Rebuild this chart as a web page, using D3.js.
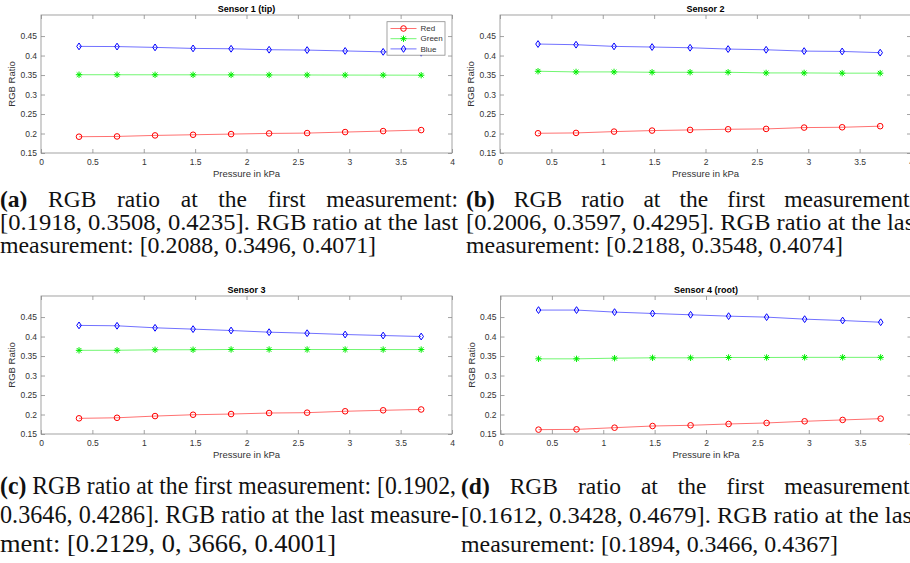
<!DOCTYPE html>
<html>
<head>
<meta charset="utf-8">
<script src="https://cdn.jsdelivr.net/npm/d3@7"></script>
<style>
  body { margin: 0; background: #fff; }
  svg { display: block; overflow: hidden; }
</style>
</head>
<body>
<svg id="chart" width="910" height="563"></svg>
<script>
// Pressure steps (kPa), shared by all four sensors
const pressure = [0.37, 0.74, 1.11, 1.48, 1.85, 2.22, 2.59, 2.96, 3.33, 3.70];

const seriesNames = ["Red", "Green", "Blue"];
const sensorTitles = ["Sensor 1 (tip)", "Sensor 2", "Sensor 3", "Sensor 4 (root)"];

// RGB ratios
const s1Red   = [0.1918, 0.1925, 0.1951, 0.1968, 0.1985, 0.2002, 0.2011, 0.2037, 0.2062, 0.2088];
const s1Green = [0.3508, 0.3507, 0.3506, 0.3505, 0.3504, 0.3502, 0.3501, 0.3499, 0.3498, 0.3496];
const s1Blue  = [0.4235, 0.4230, 0.4209, 0.4183, 0.4174, 0.4149, 0.4140, 0.4118, 0.4095, 0.4071];

const s2Red   = [0.2006, 0.2015, 0.2049, 0.2075, 0.2092, 0.2109, 0.2118, 0.2152, 0.2160, 0.2188];
const s2Green = [0.3597, 0.3580, 0.3580, 0.3571, 0.3571, 0.3571, 0.3554, 0.3554, 0.3548, 0.3548];
const s2Blue  = [0.4295, 0.4278, 0.4235, 0.4218, 0.4200, 0.4166, 0.4148, 0.4114, 0.4105, 0.4074];

const s3Red   = [0.1902, 0.1916, 0.1960, 0.1994, 0.2012, 0.2038, 0.2047, 0.2083, 0.2108, 0.2129];
const s3Green = [0.3646, 0.3648, 0.3660, 0.3662, 0.3668, 0.3668, 0.3667, 0.3667, 0.3666, 0.3666];
const s3Blue  = [0.4286, 0.4276, 0.4224, 0.4190, 0.4155, 0.4112, 0.4086, 0.4052, 0.4026, 0.4001];

const s4Red   = [0.1612, 0.1619, 0.1662, 0.1705, 0.1723, 0.1757, 0.1783, 0.1826, 0.1861, 0.1894];
const s4Green = [0.3428, 0.3428, 0.3445, 0.3454, 0.3454, 0.3463, 0.3463, 0.3466, 0.3466, 0.3466];
const s4Blue  = [0.4679, 0.4679, 0.4627, 0.4592, 0.4558, 0.4523, 0.4498, 0.4446, 0.4411, 0.4367];

const xTicks = [0, 0.5, 1, 1.5, 2, 2.5, 3, 3.5, 4];
const yTicks = [0.15, 0.2, 0.25, 0.3, 0.35, 0.4, 0.45];

const captionA = ["(a) RGB ratio at the first measurement:",
                  "[0.1918, 0.3508, 0.4235]. RGB ratio at the last",
                  "measurement: [0.2088, 0.3496, 0.4071]"];
const captionB = ["(b) RGB ratio at the first measurement:",
                  "[0.2006, 0.3597, 0.4295]. RGB ratio at the last",
                  "measurement: [0.2188, 0.3548, 0.4074]"];
const captionC = ["(c) RGB ratio at the first measurement: [0.1902,",
                  "0.3646, 0.4286]. RGB ratio at the last measure-",
                  "ment: [0.2129, 0, 3666, 0.4001]"];
const captionD = ["(d) RGB ratio at the first measurement:",
                  "[0.1612, 0.3428, 0.4679]. RGB ratio at the last",
                  "measurement: [0.1894, 0.3466, 0.4367]"];

// ---- layout / style ----
const svg = d3.select("#chart");
const pw = 411, ph = 138;
const axisColor = "#8c8c8c";
const labelColor = "#333";
const sansFont = "'Liberation Sans', Arial, Helvetica, sans-serif";
const serifFont = "'Liberation Serif', 'Times New Roman', Times, serif";
const colors = { Red: "#ff0000", Green: "#00ee00", Blue: "#0000ff" };

const panels = [
    { title: sensorTitles[0], values: [s1Red, s1Green, s1Blue], left: 41,  top: 15,  legend: true },
    { title: sensorTitles[1], values: [s2Red, s2Green, s2Blue], left: 500, top: 15 },
    { title: sensorTitles[2], values: [s3Red, s3Green, s3Blue], left: 41,  top: 296 },
    { title: sensorTitles[3], values: [s4Red, s4Green, s4Blue], left: 500.5, top: 296 }
];

panels.forEach(drawPanel);

function drawPanel(p) {
    const x = d3.scaleLinear().domain([0, 4]).range([p.left, p.left + pw]);
    const y = d3.scaleLinear().domain([0.15, 0.504]).range([p.top + ph, p.top]);
    const g = svg.append("g");

    // axes (ticks pointing inwards, MATLAB style box)
    const styleAxis = a => {
        a.select(".domain").remove();
        a.selectAll(".tick line").attr("stroke", axisColor).attr("stroke-width", 0.8);
        a.selectAll("text").attr("fill", labelColor).style("font-family", sansFont).style("font-size", "8.5px");
    };
    g.append("g").attr("transform", `translate(0,${p.top + ph})`)
        .call(d3.axisBottom(x).tickValues(xTicks).tickSize(-4).tickSizeOuter(0).tickPadding(5.5).tickFormat(d => d))
        .call(styleAxis);
    g.append("g").attr("transform", `translate(0,${p.top})`)
        .call(d3.axisTop(x).tickValues(xTicks).tickSize(-4).tickSizeOuter(0).tickFormat(""))
        .call(styleAxis);
    g.append("g").attr("transform", `translate(${p.left},0)`)
        .call(d3.axisLeft(y).tickValues(yTicks).tickSize(-4).tickSizeOuter(0).tickPadding(4).tickFormat(d => d))
        .call(styleAxis);
    g.append("g").attr("transform", `translate(${p.left + pw},0)`)
        .call(d3.axisRight(y).tickValues(yTicks).tickSize(-4).tickSizeOuter(0).tickFormat(""))
        .call(styleAxis);

    g.append("rect")
        .attr("x", p.left).attr("y", p.top)
        .attr("width", pw).attr("height", ph)
        .attr("fill", "none").attr("stroke", axisColor).attr("stroke-width", 0.8);

    // title and axis labels
    g.append("text")
        .attr("x", p.left + pw / 2).attr("y", p.top - 3)
        .attr("text-anchor", "middle")
        .style("font-family", sansFont).style("font-size", "9px").style("font-weight", "bold")
        .text(p.title);
    g.append("text")
        .attr("x", p.left + pw / 2).attr("y", p.top + ph + 24)
        .attr("text-anchor", "middle").attr("fill", labelColor)
        .style("font-family", sansFont).style("font-size", "9.5px")
        .text("Pressure in kPa");
    g.append("text")
        .attr("transform", `translate(${p.left - 26},${p.top + ph / 2}) rotate(-90)`)
        .attr("text-anchor", "middle").attr("fill", labelColor)
        .style("font-family", sansFont).style("font-size", "9.5px")
        .text("RGB Ratio");

    // series
    const line = d3.line().x((d, i) => x(pressure[i])).y(d => y(d));
    seriesNames.forEach((name, si) => {
        const vals = p.values[si];
        g.append("path")
            .attr("d", line(vals))
            .attr("fill", "none")
            .attr("stroke", colors[name])
            .attr("stroke-width", 0.8)
            .attr("stroke-opacity", 0.7);
        g.selectAll(null)
            .data(vals)
            .enter()
            .append("path")
            .attr("transform", (d, i) => `translate(${x(pressure[i])},${y(d)})`)
            .attr("d", markerPath(name))
            .attr("fill", "none")
            .attr("stroke", colors[name])
            .attr("stroke-width", 1);
    });

    if (p.legend) drawLegend(g, p.left + pw - 65, p.top + 6.7);
}

function markerPath(name) {
    if (name === "Red") {
        const r = 2.8;
        return `M${-r},0A${r},${r} 0 1,0 ${r},0A${r},${r} 0 1,0 ${-r},0Z`;
    }
    if (name === "Green") {
        const s = 3.2, d = 2.3;
        return `M${-s},0H${s}M0,${-s}V${s}M${-d},${-d}L${d},${d}M${-d},${d}L${d},${-d}`;
    }
    return "M0,-3.4L2.3,0L0,3.4L-2.3,0Z";
}

function drawLegend(g, lx, ly) {
    const lg = g.append("g").attr("transform", `translate(${lx},${ly})`);
    lg.append("rect")
        .attr("width", 58).attr("height", 33.5)
        .attr("fill", "#fff").attr("stroke", axisColor).attr("stroke-width", 0.8);
    seriesNames.forEach((name, i) => {
        const yy = 6.8 + i * 10.2;
        lg.append("line")
            .attr("x1", 3.5).attr("x2", 29.5).attr("y1", yy).attr("y2", yy)
            .attr("stroke", colors[name]).attr("stroke-width", 0.8).attr("stroke-opacity", 0.7);
        lg.append("path")
            .attr("transform", `translate(16.5,${yy})`)
            .attr("d", markerPath(name))
            .attr("fill", "none").attr("stroke", colors[name]).attr("stroke-width", 1);
        lg.append("text")
            .attr("x", 33.5).attr("y", yy + 2.8)
            .attr("fill", labelColor)
            .style("font-family", sansFont).style("font-size", "8px")
            .text(name);
    });
}

// ---- captions ----
const captions = [
    { lines: captionA, x: 0,   size: 23.5, ys: [207, 230, 253], fmt: [["justify", 458], ["fit", 458], ["fit", 376]] },
    { lines: captionB, x: 466, size: 23.5, ys: [207, 230, 253], fmt: [["justify", 450], ["fit", 455], ["fit", 377]] },
    { lines: captionC, x: 0,   size: 25,   ys: [494, 523, 552], fmt: [["fit", 456], ["fit", 459], ["fit", 336]] },
    { lines: captionD, x: 461, size: 23.5, ys: [494, 523, 552], fmt: [["justify", 455], ["fit", 458], ["fit", 377]] }
];

const capG = svg.append("g")
    .style("font-family", serifFont)
    .attr("fill", "#111");

captions.forEach(c => {
    c.lines.forEach((txt, li) => {
        const [mode, w] = c.fmt[li];
        const words = txt.split(" ");
        const isLabel = s => /^\([a-d]\)$/.test(s);
        if (mode === "justify") {
            const nodes = words.map(wd => capG.append("text")
                .attr("y", c.ys[li])
                .style("font-size", c.size + "px")
                .style("font-weight", isLabel(wd) ? "bold" : null)
                .text(wd));
            const widths = nodes.map(n => n.node().getComputedTextLength());
            const gap = (w - d3.sum(widths)) / (words.length - 1);
            let cx = c.x;
            nodes.forEach((n, i) => { n.attr("x", cx); cx += widths[i] + gap; });
        } else {
            const t = capG.append("text")
                .attr("x", c.x).attr("y", c.ys[li])
                .style("font-size", c.size + "px")
                .attr("textLength", w).attr("lengthAdjust", "spacingAndGlyphs");
            words.forEach((wd, i) => {
                t.append("tspan")
                    .style("font-weight", isLabel(wd) ? "bold" : null)
                    .text((i > 0 ? " " : "") + wd);
            });
        }
    });
});
</script>
</body>
</html>
